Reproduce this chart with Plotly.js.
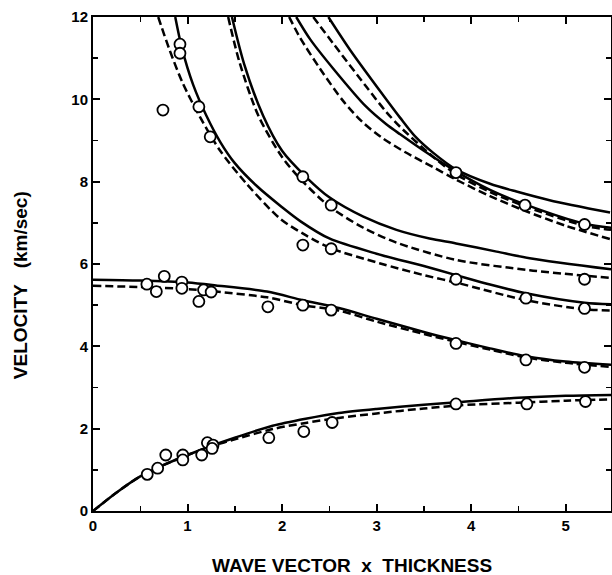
<!DOCTYPE html>
<html>
<head>
<meta charset="utf-8">
<script src="https://cdn.plot.ly/plotly-3.0.1.min.js"></script>
<style>body{margin:0;background:#fff}#chart{width:612px;height:575px}</style>
</head>
<body>
<div id="chart"></div>
<script>
// Mode 1 (fundamental)
const m1X = [0,0.25,0.5,0.75,1.0,1.25,1.5,1.9,2.25,2.6,3.0,3.5,3.9,4.5,5.0,5.48];
const m1Solid = [0,0.45,0.84,1.12,1.36,1.58,1.78,2.07,2.24,2.38,2.48,2.58,2.65,2.75,2.8,2.82];
const m1Dashed = [0,0.45,0.84,1.12,1.36,1.57,1.74,1.99,2.14,2.26,2.37,2.49,2.57,2.63,2.68,2.71];
// Mode 2
const m2X = [0,0.5,1.0,1.3,1.84,2.22,2.6,3.0,3.5,3.84,4.2,4.58,5.0,5.48];
const m2Solid = [5.62,5.6,5.55,5.48,5.33,5.12,4.93,4.67,4.35,4.15,3.95,3.76,3.63,3.55];
const m2Dashed = [5.47,5.44,5.39,5.33,5.19,5.0,4.87,4.6,4.3,4.11,3.92,3.73,3.6,3.5];
// Mode 3
const m3SolidX = [0.87,0.94,1.06,1.2,1.35,1.5,1.73,2.0,2.2,2.5,3.0,3.5,3.84,4.2,4.58,5.2,5.48];
const m3SolidY = [12,11.25,10.35,9.6,8.95,8.45,7.9,7.38,7.03,6.62,6.25,5.95,5.73,5.5,5.29,5.06,5.02];
const m3DashedX = [0.69,0.81,0.95,1.13,1.34,1.62,1.98,2.25,2.52,3.03,3.5,3.84,4.58,5.2,5.48];
const m3DashedY = [12,11.2,10.39,9.58,8.77,7.96,7.1,6.7,6.38,6.02,5.73,5.55,5.12,4.9,4.87];
// Mode 4
const m4SolidX = [1.47,1.6,1.8,2.0,2.26,2.5,2.86,3.21,3.56,3.84,4.27,4.62,5.48];
const m4SolidY = [12,10.85,9.6,8.75,8.1,7.62,7.15,6.83,6.62,6.5,6.3,6.14,5.87];
const m4DashedX = [1.43,1.55,1.75,2.0,2.2,2.5,2.86,3.21,3.84,4.62,5.48];
const m4DashedY = [12,10.9,9.6,8.6,8.05,7.4,6.88,6.52,6.1,5.85,5.66];
// Mode 5
const m5SolidX = [2.15,2.3,2.54,2.89,3.1,3.25,3.5,3.84,4.2,4.57,5.2,5.48];
const m5SolidY = [12,11.45,10.75,9.82,9.4,9.15,8.75,8.25,7.8,7.45,6.98,6.88];
const m5DashedX = [2.075,2.19,2.4,2.65,2.85,3.05,3.3,3.6,3.84,4.2,4.55,5.0,5.48];
const m5DashedY = [12,11.5,10.75,9.95,9.45,9.08,8.72,8.35,8.05,7.65,7.31,6.93,6.6];
// Mode 6
const m6SolidX = [2.49,2.72,3.07,3.25,3.4,3.6,3.84,4.2,4.48,4.83,5.47];
const m6SolidY = [12,11.2,10.1,9.55,9.12,8.7,8.3,7.95,7.76,7.55,7.25];
const m6DashedX = [2.33,2.54,2.89,3.1,3.25,3.6,3.84,4.2,4.57,5.2,5.48];
const m6DashedY = [12,11.36,10.31,9.7,9.33,8.6,8.18,7.75,7.4,6.93,6.83];
// Observed data (circles)
const obsX = [0.92,0.92,0.74,1.12,1.24,2.22,2.52,2.22,2.52,3.84,4.57,5.2,3.84,4.58,5.2,5.2,
  0.57,0.67,0.754,0.94,0.94,1.12,1.17,1.25,1.85,2.22,2.52,3.84,4.58,5.2,
  0.574,0.684,0.77,0.95,0.95,1.15,1.21,1.27,1.26,1.86,2.23,2.53,3.84,4.59,5.21];
const obsY = [11.34,11.12,9.74,9.82,9.09,8.12,7.43,6.46,6.37,8.22,7.43,6.96,5.63,5.17,5.63,4.92,
  5.51,5.33,5.7,5.56,5.41,5.09,5.37,5.32,4.96,5.0,4.88,4.07,3.67,3.49,
  0.89,1.04,1.36,1.36,1.24,1.36,1.66,1.6,1.52,1.78,1.93,2.15,2.6,2.6,2.66];

const solidLine = {color:'#000', width:2.5, shape:'spline', smoothing:0.8};
const dashLine = {color:'#000', width:2.5, shape:'spline', smoothing:0.8, dash:'8px,4px'};
function ln(x, y, style){ return {x:x, y:y, type:'scatter', mode:'lines', line:style, hoverinfo:'skip', showlegend:false}; }

const traces = [
  ln(m1X, m1Dashed, dashLine), ln(m1X, m1Solid, solidLine),
  ln(m2X, m2Dashed, dashLine), ln(m2X, m2Solid, solidLine),
  ln(m3DashedX, m3DashedY, dashLine), ln(m3SolidX, m3SolidY, solidLine),
  ln(m4DashedX, m4DashedY, dashLine), ln(m4SolidX, m4SolidY, solidLine),
  ln(m5DashedX, m5DashedY, dashLine), ln(m5SolidX, m5SolidY, solidLine),
  ln(m6DashedX, m6DashedY, dashLine), ln(m6SolidX, m6SolidY, solidLine),
  {x:obsX, y:obsY, type:'scatter', mode:'markers', showlegend:false,
   marker:{symbol:'circle', size:11, color:'#fff', line:{color:'#000', width:1.8}}}
];

const tickFont = {family:'Liberation Sans, Arial, sans-serif', size:15, color:'#000', weight:'bold'};
const layout = {
  width:612, height:575,
  margin:{l:93, r:1, t:17, b:64},
  paper_bgcolor:'#fff', plot_bgcolor:'#fff',
  showlegend:false,
  xaxis:{range:[0,5.48], tickvals:[0,1,2,3,4,5], ticks:'inside', ticklen:7, tickwidth:2, tickcolor:'#000',
    minor:{dtick:0.5, tick0:0, ticks:'inside', ticklen:5, tickwidth:1.5, tickcolor:'#000'},
    showline:true, linewidth:2, linecolor:'#000', mirror:'ticks', showgrid:false, zeroline:false,
    tickfont:tickFont},
  yaxis:{range:[0,12], tickvals:[0,2,4,6,8,10,12], ticks:'inside', ticklen:7, tickwidth:2, tickcolor:'#000',
    minor:{dtick:1, tick0:0, ticks:'inside', ticklen:5, tickwidth:1.5, tickcolor:'#000'},
    showline:true, linewidth:2, linecolor:'#000', mirror:'ticks', showgrid:false, zeroline:false,
    tickfont:tickFont},
  annotations:[
    {text:'WAVE VECTOR\u00A0\u00A0x\u00A0\u00A0THICKNESS', xref:'paper', yref:'paper', x:0.5, y:-0.111,
     xanchor:'center', yanchor:'middle', showarrow:false,
     font:{family:'Liberation Sans, Arial, sans-serif', size:19, color:'#000', weight:'bold'}},
    {text:'VELOCITY\u00A0\u00A0\u00A0(km/sec)', xref:'paper', yref:'paper', x:-0.141, y:0.457,
     xanchor:'center', yanchor:'middle', textangle:-90, showarrow:false,
     font:{family:'Liberation Sans, Arial, sans-serif', size:19, color:'#000', weight:'bold'}}
  ]
};
Plotly.newPlot('chart', traces, layout, {staticPlot:true});
</script>
</body>
</html>
